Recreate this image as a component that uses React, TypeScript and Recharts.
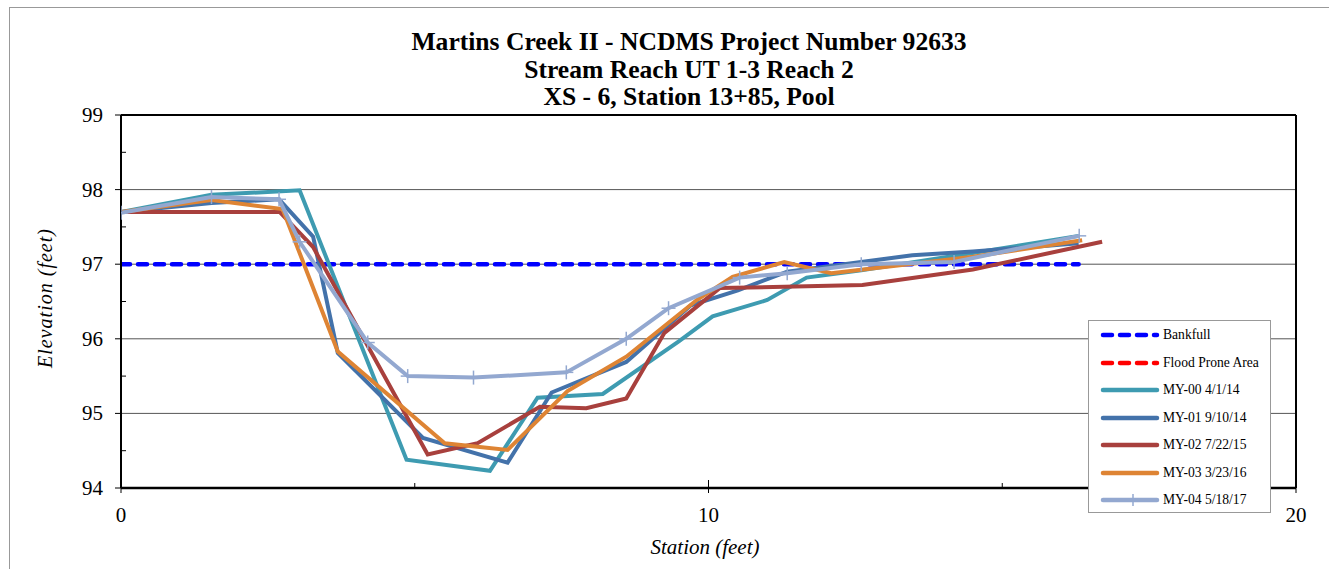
import { LineChart, Line, XAxis, YAxis, CartesianGrid, ReferenceLine } from "recharts";

// station (ft) / elevation (ft) per survey
const my00Station = [0, 1.54, 3.04, 4.86, 6.28, 7.09, 8.2, 9.5, 10.07, 11.0, 11.67, 12.6, 14.5, 16.3];
const my00Elev = [97.7, 97.93, 97.99, 94.38, 94.23, 95.21, 95.26, 95.97, 96.3, 96.52, 96.82, 96.92, 97.15, 97.38];

const my01Station = [0, 1.54, 2.69, 3.27, 3.69, 5.14, 6.58, 7.33, 8.6, 9.7, 10.5, 11.34, 13.47, 14.5, 16.3];
const my01Elev = [97.7, 97.82, 97.87, 97.37, 95.81, 94.67, 94.34, 95.28, 95.69, 96.45, 96.65, 96.9, 97.12, 97.17, 97.28];

const my02Station = [0, 2.7, 3.27, 5.22, 6.07, 7.13, 7.92, 8.6, 9.25, 10.19, 12.62, 14.5, 16.7];
const my02Elev = [97.7, 97.7, 97.23, 94.45, 94.6, 95.09, 95.07, 95.2, 96.08, 96.68, 96.72, 96.93, 97.3];

const my03Station = [0, 1.54, 2.75, 3.69, 5.51, 6.58, 7.6, 8.6, 9.8, 10.41, 11.29, 12.09, 14.5, 16.36];
const my03Elev = [97.7, 97.86, 97.74, 95.83, 94.6, 94.51, 95.3, 95.76, 96.52, 96.83, 97.03, 96.88, 97.1, 97.32];

const my04Station = [0, 1.54, 2.69, 3.04, 4.2, 4.88, 6.0, 7.58, 8.6, 9.32, 10.53, 11.34, 12.6, 14.18, 16.31];
const my04Elev = [97.69, 97.9, 97.87, 97.3, 95.95, 95.5, 95.48, 95.55, 96.0, 96.41, 96.82, 96.88, 97.0, 97.03, 97.38];

const bankfullStation = [0, 16.3];
const bankfullElev = [97, 97];

const stationTicks = [0, 5, 10, 15, 20];
const elevTicks = [94, 94.5, 95, 95.5, 96, 96.5, 97, 97.5, 98, 98.5, 99];
const gridElevs = [95, 96, 97, 98];

const titleLines = [
  "Martins Creek II - NCDMS Project Number 92633",
  "Stream Reach UT 1-3 Reach 2",
  "XS - 6, Station 13+85, Pool",
];

const COLORS = {
  bankfull: "#0000FF",
  flood: "#FF0000",
  my00: "#3E9BB1",
  my01: "#4372AA",
  my02: "#A8403D",
  my03: "#DE8434",
  my04: "#93A8D0",
};

const FONT = "'Liberation Serif', Tinos, 'Times New Roman', 'DejaVu Serif', serif";

const zip = (xs: number[], ys: number[]) => xs.map((x, i) => ({ x, y: ys[i] }));

const series = [
  { name: "MY-00 4/1/14", color: COLORS.my00, data: zip(my00Station, my00Elev) },
  { name: "MY-01 9/10/14", color: COLORS.my01, data: zip(my01Station, my01Elev) },
  { name: "MY-02 7/22/15", color: COLORS.my02, data: zip(my02Station, my02Elev) },
  { name: "MY-03 3/23/16", color: COLORS.my03, data: zip(my03Station, my03Elev) },
];

const legendItems = [
  { name: "Bankfull", color: COLORS.bankfull, dashed: true, cross: false },
  { name: "Flood Prone Area", color: COLORS.flood, dashed: true, cross: false },
  { name: "MY-00 4/1/14", color: COLORS.my00, dashed: false, cross: false },
  { name: "MY-01 9/10/14", color: COLORS.my01, dashed: false, cross: false },
  { name: "MY-02 7/22/15", color: COLORS.my02, dashed: false, cross: false },
  { name: "MY-03 3/23/16", color: COLORS.my03, dashed: false, cross: false },
  { name: "MY-04 5/18/17", color: COLORS.my04, dashed: false, cross: true },
];

function YTick(props: any) {
  const { x, y, payload } = props;
  const major = Number.isInteger(payload.value);
  return (
    <g>
      {major ? (
        <line x1={x + 2} x2={x + 8} y1={y} y2={y} stroke="#000" />
      ) : (
        <line x1={x + 8} x2={x + 13} y1={y} y2={y} stroke="#000" />
      )}
      {major && (
        <text x={x - 10} y={y + 7} textAnchor="end" style={{ fontFamily: FONT, fontSize: 21 }} fill="#000">
          {payload.value}
        </text>
      )}
    </g>
  );
}

function XTick(props: any) {
  const { x, y, payload } = props;
  const major = payload.value % 10 === 0;
  return (
    <g>
      {major ? (
        <line x1={x} x2={x} y1={y - 16} y2={y - 3} stroke="#000" />
      ) : (
        <line x1={x} x2={x} y1={y - 13} y2={y - 8} stroke="#000" />
      )}
      {major && (
        <text x={x} y={y + 26} textAnchor="middle" style={{ fontFamily: FONT, fontSize: 21 }} fill="#000">
          {payload.value}
        </text>
      )}
    </g>
  );
}

function CrossDot(props: any) {
  const { cx, cy } = props;
  if (cx == null || cy == null) return null;
  return (
    <g>
      <line x1={cx - 7} x2={cx + 7} y1={cy} y2={cy} stroke={COLORS.my04} strokeWidth={1.5} />
      <line x1={cx} x2={cx} y1={cy - 7} y2={cy + 7} stroke={COLORS.my04} strokeWidth={1.5} />
    </g>
  );
}

function LegendBox() {
  return (
    <div
      style={{
        position: "absolute",
        left: 1088,
        top: 320,
        width: 183,
        height: 193,
        border: "1px solid #999",
        background: "#fff",
        boxSizing: "border-box",
      }}
    >
      {legendItems.map((item, i) => (
        <div
          key={item.name}
          style={{ position: "absolute", left: 0, top: 5 + i * 27.5, height: 18, display: "flex", alignItems: "center" }}
        >
          <svg width={72} height={18} style={{ display: "block" }}>
            <line
              x1={14}
              x2={68}
              y1={9}
              y2={9}
              stroke={item.color}
              strokeWidth={4.5}
              strokeLinecap="round"
              strokeDasharray={item.dashed ? "9 8" : undefined}
            />
            {item.cross && <line x1={44} x2={44} y1={3} y2={15} stroke={item.color} strokeWidth={1.5} />}
          </svg>
          <span style={{ fontFamily: FONT, fontSize: 13.6, color: "#000", marginLeft: 2, whiteSpace: "nowrap" }}>
            {item.name}
          </span>
        </div>
      ))}
    </div>
  );
}

export default function App() {
  return (
    <div
      style={{
        position: "fixed",
        left: 0,
        top: 0,
        width: 1329,
        height: 569,
        overflow: "hidden",
        background: "#fff",
        fontFamily: FONT,
      }}
    >
      <div
        style={{ position: "absolute", left: 9, top: 7, width: 1400, height: 700, border: "1px solid #999" }}
      />
      {titleLines.map((t, i) => (
        <div
          key={t}
          style={{
            position: "absolute",
            left: 189,
            width: 1000,
            top: 28 + i * 27.5,
            textAlign: "center",
            fontFamily: FONT,
            fontWeight: "bold",
            fontSize: 25.6,
            lineHeight: "28px",
            color: "#000",
          }}
        >
          {t}
        </div>
      ))}
      <LineChart
        width={1329}
        height={569}
        margin={{ top: 115, right: 33, bottom: 51, left: 61 }}
        style={{ position: "absolute", left: 0, top: 0 }}
      >
        <CartesianGrid horizontalValues={gridElevs} vertical={false} stroke="#555" strokeWidth={1} />
        <XAxis
          type="number"
          dataKey="x"
          domain={[0, 20]}
          ticks={stationTicks}
          interval={0}
          allowDataOverflow
          height={30}
          tickSize={6}
          tickMargin={2}
          tickLine={false}
          tick={<XTick />}
          axisLine={{ stroke: "#000", strokeWidth: 2.5 }}
        />
        <YAxis
          type="number"
          dataKey="y"
          domain={[94, 99]}
          ticks={elevTicks}
          interval={0}
          allowDataOverflow
          width={60}
          tickSize={6}
          tickMargin={2}
          tickLine={false}
          tick={<YTick />}
          axisLine={{ stroke: "#000", strokeWidth: 2 }}
        />
        <ReferenceLine y={99} stroke="#000" strokeWidth={2} />
        <ReferenceLine x={20} stroke="#000" strokeWidth={2} />
        <Line
          data={zip(bankfullStation, bankfullElev)}
          dataKey="y"
          name="Bankfull"
          stroke={COLORS.bankfull}
          strokeWidth={4.5}
          strokeDasharray="9 8"
          strokeLinecap="round"
          dot={false}
          isAnimationActive={false}
        />
        {series.map((s) => (
          <Line
            key={s.name}
            data={s.data}
            dataKey="y"
            name={s.name}
            stroke={s.color}
            strokeWidth={4}
            dot={false}
            isAnimationActive={false}
          />
        ))}
        <Line
          data={zip(my04Station, my04Elev)}
          dataKey="y"
          name="MY-04 5/18/17"
          stroke={COLORS.my04}
          strokeWidth={4}
          dot={<CrossDot />}
          isAnimationActive={false}
        />
      </LineChart>
      <div
        style={{
          position: "absolute",
          left: 45,
          top: 298,
          transform: "translate(-50%, -50%) rotate(-90deg)",
          fontFamily: FONT,
          fontStyle: "italic",
          fontSize: 20,
          letterSpacing: 1,
          whiteSpace: "nowrap",
          color: "#000",
        }}
      >
        Elevation (feet)
      </div>
      <div
        style={{
          position: "absolute",
          left: 705,
          top: 547,
          transform: "translate(-50%, -50%)",
          fontFamily: FONT,
          fontStyle: "italic",
          fontSize: 21,
          whiteSpace: "nowrap",
          color: "#000",
        }}
      >
        Station (feet)
      </div>
      <LegendBox />
    </div>
  );
}
